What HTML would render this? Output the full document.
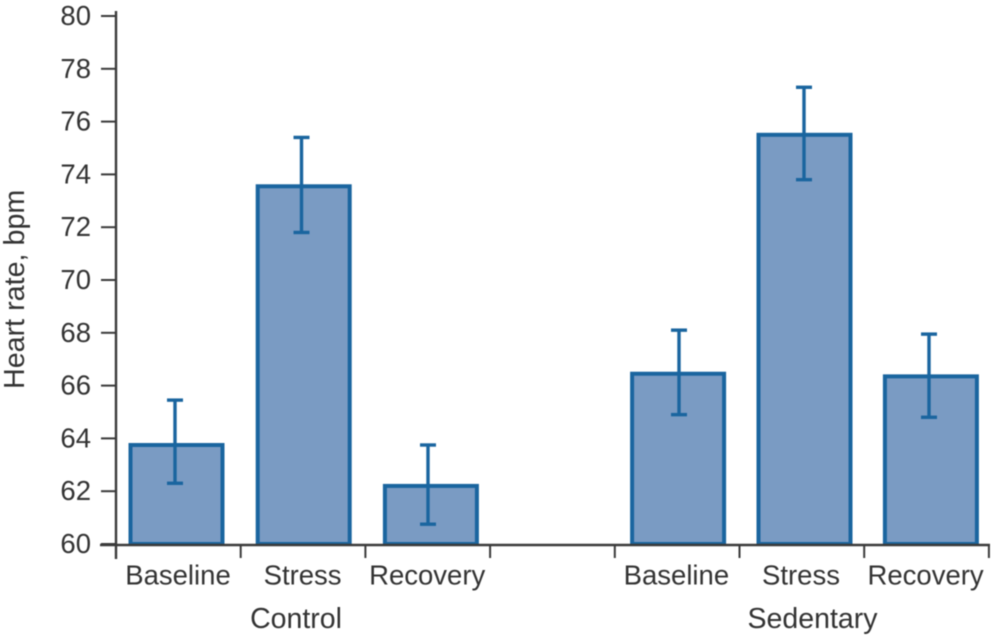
<!DOCTYPE html>
<html>
<head>
<meta charset="utf-8">
<title>Heart rate chart</title>
<style>
html,body{margin:0;padding:0;background:#fff;width:991px;height:637px;overflow:hidden}
svg{display:block;filter:blur(0.6px)}
text{font-family:"Liberation Sans",sans-serif;fill:#333;font-size:27.5px}
</style>
</head>
<body>
<svg id="chart" width="991" height="637" viewBox="0 0 991 637" xmlns="http://www.w3.org/2000/svg"></svg>
<script>
const categories = ['Baseline','Stress','Recovery','Baseline','Stress','Recovery'];
const slots = [0,1,2,4,5,6];
const values = [63.75,73.55,62.2,66.45,75.5,66.35];
const errorHigh = [65.45,75.4,63.75,68.1,77.3,67.95];
const errorLow = [62.3,71.8,60.75,64.9,73.8,64.8];
const yTicks = [60,62,64,66,68,70,72,74,76,78,80];
const groups = ['Control','Sedentary'];

const NS = 'http://www.w3.org/2000/svg';
const svg = document.getElementById('chart');
const y = v => 544 - (v - 60) * 26.4;
const barX = s => s < 3 ? 176.5 + 127.2 * s : 172.5 + 126.4 * s;
const errX = s => s < 3 ? 175 + 126.5 * s : 179 + 125 * s;
const tickX = s => 116 + 124.7 * s;
const labelX = s => 178 + 124.6 * s;
const groupX = i => i === 0 ? labelX(1) - 6.6 : labelX(5) + 11.5;
const BAR_W = 92;

function make(tag, attrs, parent, text) {
  const el = document.createElementNS(NS, tag);
  for (const k in attrs) el.setAttribute(k, attrs[k]);
  if (text !== undefined) el.textContent = text;
  (parent || svg).appendChild(el);
  return el;
}

/* bars */
values.forEach((v, i) => {
  const cx = barX(slots[i]);
  const bar = make('rect', {x: cx - BAR_W / 2, y: y(v), width: BAR_W, height: y(60) - y(v), fill: '#7a9bc3', stroke: '#1a659f', 'stroke-width': 4});
  
  
});

/* error bars */
values.forEach((v, i) => {
  const cx = errX(slots[i]);
  const g = make('g', {stroke: '#1a659f', 'stroke-width': 3.4, fill: 'none'});
  
  
  make('line', {x1: cx, x2: cx, y1: y(errorHigh[i]), y2: y(errorLow[i])}, g);
  make('line', {x1: cx - 8, x2: cx + 8, y1: y(errorHigh[i]), y2: y(errorHigh[i])}, g);
  make('line', {x1: cx - 8, x2: cx + 8, y1: y(errorLow[i]), y2: y(errorLow[i])}, g);
});

/* y axis */
const yAxis = make('g', {stroke: '#3a3a3a', 'stroke-width': 2.4});


make('line', {x1: 116, x2: 116, y1: 11, y2: 559}, yAxis);
yTicks.forEach(t => {
  make('line', {x1: 101, x2: 116, y1: y(t), y2: y(t), 'stroke-width': 2}, yAxis);
  const lbl = make('text', {x: 91, y: y(t) + 9, 'text-anchor': 'end'}, svg, String(t));
  
  
});

/* x axis */
const xAxis = make('g', {stroke: '#3a3a3a', 'stroke-width': 2.4});


make('line', {x1: 100, x2: 990, y1: 545, y2: 545}, xAxis);
[1,2,3,4,5,6,7].forEach(s => {
  make('line', {x1: tickX(s), x2: tickX(s), y1: 545, y2: 558, 'stroke-width': 2}, xAxis);
});

/* category labels */
categories.forEach((c, i) => {
  const lbl = make('text', {x: labelX(slots[i]), y: 584.5, 'text-anchor': 'middle'}, svg, c);
  
  
});

/* group labels */
groups.forEach((g, i) => {
  const lbl = make('text', {x: groupX(i), y: 628, 'text-anchor': 'middle', style: 'font-size:28.5px'}, svg, g);
  
  
});

/* y title */
const title = make('text', {x: 0, y: 0, transform: 'translate(24,389) rotate(-90)', 'text-anchor': 'start', style: 'font-size:28.7px'}, svg, 'Heart rate, bpm');


</script>
</body>
</html>
